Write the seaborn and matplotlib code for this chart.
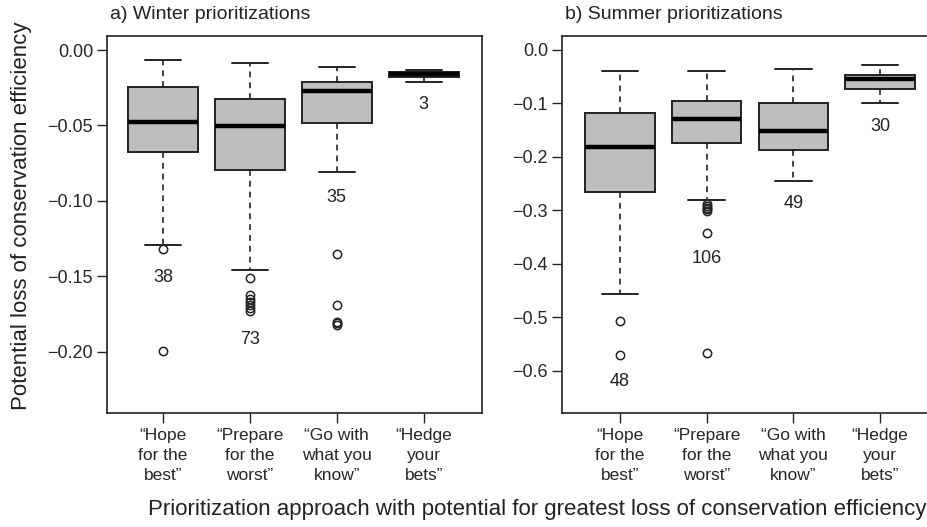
import matplotlib
matplotlib.use("Agg")
import matplotlib.pyplot as plt
import seaborn as sns

# Category labels (x axis)
approaches = [
    "\u201cHope\nfor the\nbest\u201d",
    "\u201cPrepare\nfor the\nworst\u201d",
    "\u201cGo with\nwhat you\nknow\u201d",
    "\u201cHedge\nyour\nbets\u201d",
]

# Winter box statistics
winter_whislo = [-0.129, -0.1457, -0.081, -0.021]
winter_q1 = [-0.0673, -0.0795, -0.0485, -0.0181]
winter_med = [-0.0479, -0.0503, -0.0272, -0.0159]
winter_q3 = [-0.0243, -0.0327, -0.0210, -0.0144]
winter_whishi = [-0.0066, -0.0088, -0.0115, -0.0132]
winter_fliers = [
    [-0.1318, -0.1995],
    [-0.1512, -0.162, -0.165, -0.167, -0.169, -0.171, -0.173],
    [-0.1351, -0.1689, -0.180, -0.181, -0.182],
    [],
]
winter_n = [38, 73, 35, 3]
winter_label_y = [-0.151, -0.1916, -0.0976, -0.0364]

# Summer box statistics
summer_whislo = [-0.4557, -0.281, -0.245, -0.100]
summer_q1 = [-0.265, -0.1736, -0.187, -0.0736]
summer_med = [-0.181, -0.129, -0.151, -0.055]
summer_q3 = [-0.1186, -0.095, -0.0999, -0.047]
summer_whishi = [-0.0387, -0.0387, -0.036, -0.029]
summer_fliers = [
    [-0.507, -0.571],
    [-0.289, -0.292, -0.295, -0.298, -0.301, -0.343, -0.567],
    [],
    [],
]
summer_n = [48, 106, 49, 30]
summer_label_y = [-0.62, -0.39, -0.287, -0.144]

sns.set_style("ticks")
plt.rcParams['font.family'] = ['Liberation Sans', 'DejaVu Sans']

fig = plt.figure(figsize=(9.27, 5.27), dpi=100)
ax_w = fig.add_axes([107 / 927, 1 - 413 / 527, 375 / 927, 377 / 527])
# right panel runs past the figure edge, as in the original crop
ax_s = fig.add_axes([562 / 927, 1 - 413 / 527, 383 / 927, 377 / 527])

edge = "#222222"


def draw_panel(ax, whislo, q1, med, q3, whishi, fliers, counts, label_y,
               xlim, ylim, yticks, ytick_fmt, title):
    stats = []
    for i in range(len(med)):
        stats.append(dict(whislo=whislo[i], q1=q1[i], med=med[i], q3=q3[i],
                          whishi=whishi[i], fliers=fliers[i]))
    ax.bxp(stats, positions=[1, 2, 3, 4], widths=0.8, patch_artist=True,
           boxprops=dict(facecolor="#bebebe", edgecolor=edge, linewidth=1.4),
           medianprops=dict(color="black", linewidth=3.2, solid_capstyle="butt"),
           whiskerprops=dict(color=edge, linewidth=1.2, linestyle=(0, (3.5, 3))),
           capprops=dict(color=edge, linewidth=1.4),
           flierprops=dict(marker="o", markersize=6, markerfacecolor="none",
                           markeredgecolor=edge, markeredgewidth=1.1),
           capwidths=0.42)
    for i, n in enumerate(counts):
        ax.text(i + 1, label_y[i], str(n), ha="center", va="center",
                fontsize=13, color="#222222")
    ax.set_xlim(*xlim)
    ax.set_ylim(*ylim)
    ax.set_yticks(yticks)
    ax.set_yticklabels([ytick_fmt.format(v).replace("-", "\u2212") for v in yticks])
    ax.set_xticks([1, 2, 3, 4])
    ax.set_xticklabels(approaches, fontsize=12.5, linespacing=1.4)
    ax.tick_params(axis="y", labelsize=13, length=7, width=1, color=edge, pad=3)
    ax.tick_params(axis="x", length=7, width=1, color=edge, pad=4)
    for sp in ax.spines.values():
        sp.set_color(edge)
        sp.set_linewidth(1.2)
    ax.text(3 / 375, 1.035, title, transform=ax.transAxes, fontsize=14,
            ha="left", va="bottom", color="#222222")


draw_panel(ax_w, winter_whislo, winter_q1, winter_med, winter_q3, winter_whishi,
           winter_fliers, winter_n, winter_label_y, (0.356, 4.67),
           (-0.2405, 0.0093), [0.0, -0.05, -0.10, -0.15, -0.20], "{:.2f}",
           "a) Winter prioritizations")
draw_panel(ax_s, summer_whislo, summer_q1, summer_med, summer_q3, summer_whishi,
           summer_fliers, summer_n, summer_label_y, (0.331, 4.75),
           (-0.679, 0.026), [0.0, -0.1, -0.2, -0.3, -0.4, -0.5, -0.6], "{:.1f}",
           "b) Summer prioritizations")

fig.text(22 / 927, 1 - 216 / 527, "Potential loss of conservation efficiency",
         rotation=90, ha="center", va="center", fontsize=16, color="#222222")
fig.text(537 / 927, 1 - 509 / 527,
         "Prioritization approach with potential for greatest loss of conservation efficiency",
         ha="center", va="center", fontsize=16, color="#222222")

fig.savefig("out.png", dpi=100)
